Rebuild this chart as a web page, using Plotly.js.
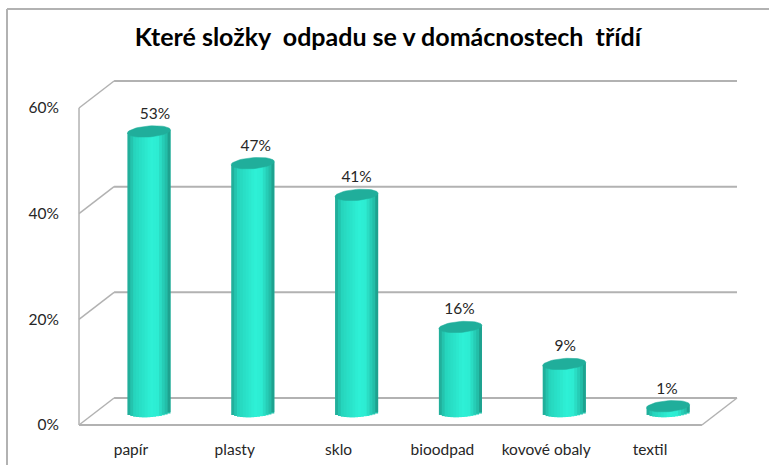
<!DOCTYPE html>
<html><head><meta charset="utf-8">
<script src="https://cdn.plot.ly/plotly-3.0.1.min.js"></script>
<style>html,body{margin:0;padding:0;background:#fff;overflow:hidden}#c{width:769px;height:465px}</style>
</head><body><div id="c"></div>
<script>
const categories = ['papír','plasty','sklo','bioodpad','kovové obaly','textil'];
const values = [53,47,41,16,9,1];
const tickValues = [0,20,40,60];
const chartTitle = 'Které složky\u00a0 odpadu se v domácnostech\u00a0 třídí';

// geometry of the fake 3D box, in pixels
const W=769,H=465, X0=79, Y0=425, Y60=108, UX=103.67, UY=(Y0-Y60)/60;
const DX=35/UX, DY=27/UY, PAD=4, RX=737, RT=81;
const L=X0-PAD, R=RX+PAD, T=RT-PAD, B=Y0+PAD;
const xMin=-0.5, xFront=5.5, xBack=xFront+DX;
const BAR_DX=18/UX, BAR_BASE=13.5/UY, HALF=21.5/UX, EB=5.5/UY, TILT=1.6/UY;
const N=15;
const stops=[[-1,[31,165,146]],[-0.7,[38,212,188]],[0.1,[46,240,214]],[0.4,[45,236,210]],[0.8,[35,190,168]],[1,[27,148,131]]];
function shade(t){for(let i=1;i<stops.length;i++){if(t<=stops[i][0]){const a=stops[i-1],b=stops[i],f=(t-a[0])/(b[0]-a[0]);
  return 'rgb('+a[1].map((c,k)=>Math.round(c+(b[1][k]-c)*f)).join(',')+')';}}return 'rgb(27,148,131)';}

const traces=[];
const xs=categories.map((_,i)=>i+BAR_DX);
for(let s=0;s<N;s++){
  const u=-1+(2*s+1)/N, left=-1+2*s/N, right=Math.min(1,left+2*2/N);
  const bases=values.map(v=>BAR_BASE-EB*Math.sqrt(1-u*u)+TILT*u);
  traces.push({type:'bar',x:xs,y:values.map((v,i)=>v+BAR_BASE+TILT*u-bases[i]),base:bases,width:(right-left)*HALF,offset:left*HALF,
    marker:{color:shade(u),line:{width:0}},hoverinfo:'skip',showlegend:false});
}
values.forEach((v,i)=>{
  const ex=[],ey=[];
  for(let k=0;k<=48;k++){const a=k/48*2*Math.PI;ex.push(xs[i]+HALF*Math.cos(a));ey.push(v+BAR_BASE+EB*Math.sin(a)+TILT*Math.cos(a));}
  traces.push({type:'scatter',mode:'lines',x:ex,y:ey,fill:'toself',fillcolor:'#20AE9B',line:{color:'#20AE9B',width:0.5},hoverinfo:'skip',showlegend:false});
});
const labelShiftPx=[6,3,0,-1,1,-1];
traces.push({type:'scatter',mode:'text',x:xs.map((x,i)=>x+labelShiftPx[i]/UX),y:values.map(v=>v+BAR_BASE+16.5/UY),text:values.map(v=>v+'%'),textposition:'middle center',
  textfont:{family:'Lato, Carlito, sans-serif',size:15.5,color:'#262626'},hoverinfo:'skip',showlegend:false});

const gray='#B2B2B2', shapes=[];
function seg(x0,y0,x1,y1,wd,col){shapes.push({type:'line',layer:'below',xref:'x',yref:'y',x0,y0,x1,y1,line:{color:col||gray,width:wd||2}});}
tickValues.forEach(v=>{
  seg(xMin+DX,v+DY,xBack,v+DY);
  seg(xMin,v,xMin+DX,v+DY,1.5);
});
seg(xMin,0,xMin,60,1.5);
seg(xMin,0,xFront,0);
seg(xFront,0,xBack,DY,1.5);
// outer frame of the picture (left and top edges only)
const px=p=>(p-L)/(R-L), py=p=>(B-p)/(B-T);
shapes.push({type:'line',xref:'paper',yref:'paper',x0:px(7),x1:px(7),y0:py(9),y1:py(H),line:{color:gray,width:2}});
shapes.push({type:'line',xref:'paper',yref:'paper',x0:px(7),x1:px(W),y0:py(9),y1:py(9),line:{color:gray,width:2}});

const layout={width:W,height:H,paper_bgcolor:'#fff',plot_bgcolor:'#fff',barmode:'overlay',showlegend:false,
  margin:{l:L,r:W-R,t:T,b:H-B,pad:0},
  title:{text:chartTitle,x:388/W,xanchor:'center',y:1-37.5/H,yanchor:'middle',font:{family:'Lato, Carlito, sans-serif',size:25,color:'#000',weight:700}},
  xaxis:{type:'linear',range:[xMin-PAD/UX,xBack+PAD/UX],tickmode:'array',tickvals:categories.map((_,i)=>i),ticktext:categories,
    showgrid:false,zeroline:false,showline:false,ticks:'outside',ticklen:6,tickcolor:'rgba(0,0,0,0)',
    tickfont:{family:'Lato, Carlito, sans-serif',size:15.5,color:'#262626'},fixedrange:true},
  yaxis:{range:[-PAD/UY,(Y0-RT+PAD)/UY],tickmode:'array',tickvals:tickValues,ticktext:tickValues.map(v=>v+'%'),
    showgrid:false,zeroline:false,showline:false,ticks:'outside',ticklen:12,tickcolor:'rgba(0,0,0,0)',
    tickfont:{family:'Lato, Carlito, sans-serif',size:15.5,color:'#262626'},fixedrange:true},
  shapes};
Plotly.newPlot('c',traces,layout,{displayModeBar:false,staticPlot:true});
</script></body></html>
